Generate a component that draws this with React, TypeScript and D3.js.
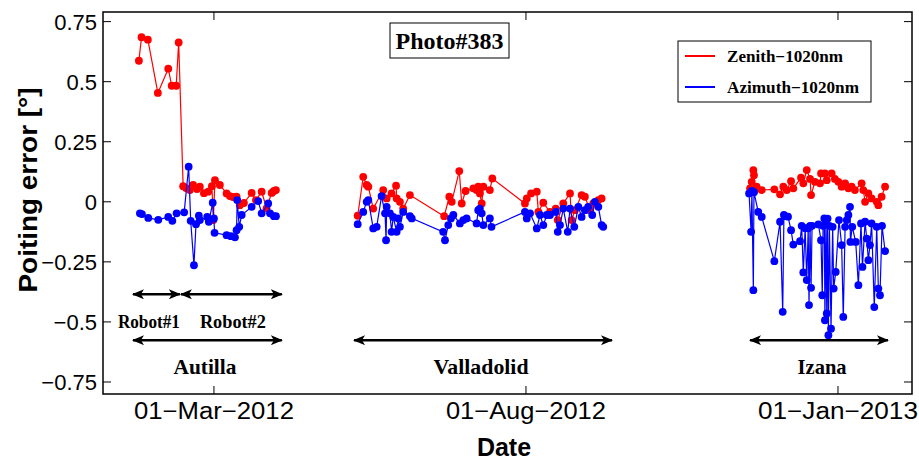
import React from 'react';
import * as d3 from 'd3';

// Day numbers counted from 2012-01-01 (day 0)
const autillaZenithDays = [23.2,24.5,27.6,32.5,37.6,39.3,41.5,42.7,44.9,46.3,48.2,49.8,51.7,53.1,55.1,57.2,59.0,59.7,60.5,62.9,66.2,67.8,69.3,71.1,72.7,74.7,78.5,80.6,83.4,85.8,88.3,89.4,90.4];
const autillaZenith = [0.587,0.685,0.675,0.453,0.554,0.483,0.483,0.663,0.065,0.057,0.049,0.07,0.053,0.063,0.036,0.042,0.065,-0.076,0.09,0.07,0.035,0.024,0.02,0.021,-0.014,-0.005,0.037,0.007,0.042,-0.027,0.037,0.045,0.049];
const autillaAzimuthDays = [23.7,24.7,27.8,32.7,37.6,39.6,41.7,45.4,47.6,48.6,50.2,51.2,52.6,53.1,56.7,57.5,59.4,60.0,60.3,66.2,68.3,70.3,71.1,71.4,72.4,73.6,78.5,81.7,83.4,86.6,87.5,89.4,90.4];
const autillaAzimuth = [-0.048,-0.051,-0.067,-0.075,-0.063,-0.079,-0.048,-0.044,0.146,-0.079,-0.264,-0.093,-0.058,-0.076,-0.063,-0.083,-0.004,-0.069,-0.129,-0.139,-0.143,-0.148,-0.118,0.007,-0.104,-0.055,-0.021,0.003,-0.048,-0.007,-0.048,-0.06,-0.06];

const valladolidZenithDays = [130.5,133.2,134.9,135.7,138.1,143.0,144.7,147.1,149.3,149.6,151.2,152.8,156.1,172.9,175.4,176.6,180.3,181.5,183.4,187.2,188.8,189.6,190.4,191.3,192.1,195.3,196.5,212.5,213.4,215.5,218.3,219.1,221.5,224.8,227.6,228.6,231.3,234.6,235.4,237.0,240.3,241.9,244.4,246.0,248.5,250.1];
const valladolidZenith = [-0.058,0.104,0.07,0.063,-0.028,0.049,0.014,0.035,0.067,0.014,0,-0.028,0.028,-0.06,0.021,0,0.128,-0.007,0.045,0.056,0.049,0.063,0.035,-0.007,0.063,0.049,0.097,-0.007,0.014,0.035,0.042,-0.042,-0.004,-0.042,-0.028,-0.076,-0.007,0.035,-0.076,-0.035,0.028,0.021,-0.035,-0.007,0.007,0.014];
const valladolidAzimuthDays = [130.5,133.2,134.9,135.7,138.1,139.8,142.2,143.9,144.4,144.7,146.3,147.1,147.9,149.6,150.4,151.2,152.8,156.1,157.0,172.4,173.3,174.9,176.2,177.4,180.6,182.3,183.9,188.8,189.6,190.4,191.3,192.1,195.3,196.1,212.5,213.4,215.0,218.3,219.9,221.5,223.2,224.8,227.6,228.6,229.7,231.3,233.5,234.6,236.7,238.7,240.3,241.9,243.5,245.5,246.8,248.5,250.1,250.9];
const valladolidAzimuth = [-0.093,-0.042,0,0.007,-0.111,-0.104,0.024,-0.048,-0.16,-0.021,-0.048,-0.125,-0.063,-0.125,-0.069,-0.104,-0.042,-0.06,-0.069,-0.125,-0.16,-0.097,-0.069,-0.055,-0.09,-0.076,-0.069,-0.09,-0.035,-0.028,-0.048,-0.097,-0.069,-0.104,-0.042,-0.069,-0.048,-0.111,-0.055,-0.097,-0.055,-0.055,-0.042,-0.125,-0.097,-0.028,-0.125,-0.028,-0.104,-0.021,-0.063,-0.035,-0.021,-0.055,0,-0.021,-0.097,-0.104];

const izanaZenithDays = [322.9,323.7,324.5,324.8,325.2,326.1,328.6,334.8,337.6,339.2,340.9,343.0,344.1,347.9,349.0,350.7,352.3,352.8,354.7,357.2,357.7,359.6,360.5,362.9,364.5,366.2,367.8,369.5,371.1,372.7,374.3,377.6,378.4,379.3,380.9,382.5,385.0,385.8,387.4,389.1];
const izanaZenith = [0.056,0.083,0.132,0.111,0.049,0.063,0.049,0.052,0.031,0.063,0.049,0.086,0.056,0.1,0.077,0.132,0.095,0.028,0.083,0.077,0.118,0.118,0.09,0.118,0.095,0.083,0.063,0.077,0.056,0.063,0.049,0.077,0.049,0,0.035,0.014,0,-0.014,0.021,0.063];
const izanaAzimuthDays = [322.4,323.4,323.8,324.5,324.8,326.9,328.6,334.8,337.6,338.9,339.5,340.0,341.5,343.0,344.1,347.4,348.2,349.0,349.9,350.7,351.4,351.8,352.3,352.8,353.3,356.4,357.7,358.3,358.7,359.3,359.6,360.1,360.5,360.9,361.3,361.8,362.6,363.4,363.9,364.9,366.5,367.8,368.6,369.5,370.3,371.1,371.9,372.1,373.0,374.7,376.0,377.3,378.0,379.3,380.1,380.9,381.7,382.5,383.8,385.0,385.8,386.6,387.6,389.1];
const izanaAzimuth = [0.035,-0.125,0.045,-0.368,0.04,-0.042,-0.063,-0.247,-0.083,-0.458,-0.055,-0.06,-0.062,-0.118,-0.178,-0.164,-0.1,-0.294,-0.11,-0.326,-0.11,-0.43,-0.1,-0.358,-0.1,-0.094,-0.16,-0.389,-0.1,-0.069,-0.493,-0.08,-0.465,-0.07,-0.555,-0.1,-0.528,-0.104,-0.361,-0.292,-0.076,-0.18,-0.479,-0.104,-0.076,-0.055,-0.021,-0.167,-0.104,-0.167,-0.347,-0.09,-0.271,-0.083,-0.153,-0.243,-0.18,-0.09,-0.438,-0.104,-0.361,-0.389,-0.1,-0.205];

const yTicks = [-0.75, -0.5, -0.25, 0, 0.25, 0.5, 0.75];
const xTickDays = [60, 213, 366];
const xTickLabels = ['01\u2212Mar\u22122012', '01\u2212Aug\u22122012', '01\u2212Jan\u22122013'];

const robotLabels = ['Robot#1', 'Robot#2'];
const robotFrom = [20.3, 43.8];
const robotTo = [43.3, 93.3];
const robotLabelDay = [28.1, 69.3];
const robotLabelWidth = [62, 66];

const siteLabels = ['Autilla', 'Valladolid', 'Izana'];
const siteFrom = [20.3, 128.7, 322.9];
const siteTo = [93.3, 255.2, 390.5];
const siteLabelDay = [55.6, 191, 358.2];
const siteLabelWidth = [63, 95, 49];

const RED = '#ff0000';
const BLUE = '#0000ff';

const BASE = Date.UTC(2012, 0, 1);
const toDate = (d: number) => new Date(BASE + d * 86400000);

const W = 919, H = 461;
const L = 103, R = 912, T = 12, B = 394;

export default function App() {
  const x = d3.scaleUtc().domain([toDate(5.6), toDate(402.3)]).range([L, R]);
  const y = d3.scaleLinear().domain([-0.8, 0.79]).range([B, T]);
  const line = d3.line<[number, number]>().x(d => x(toDate(d[0]))).y(d => y(d[1]));

  const series = [
    { days: autillaZenithDays, vals: autillaZenith, color: RED },
    { days: valladolidZenithDays, vals: valladolidZenith, color: RED },
    { days: izanaZenithDays, vals: izanaZenith, color: RED },
    { days: autillaAzimuthDays, vals: autillaAzimuth, color: BLUE },
    { days: valladolidAzimuthDays, vals: valladolidAzimuth, color: BLUE },
    { days: izanaAzimuthDays, vals: izanaAzimuth, color: BLUE },
  ];

  const fmt = (v: number) => String(v).replace('-', '\u2212');
  const sans = 'Liberation Sans, Arial, sans-serif';
  const serif = 'Liberation Serif, Times New Roman, serif';

  const robotY = y(-0.385);
  const robotLabelY = y(-0.501);
  const siteY = y(-0.576);
  const siteLabelY = y(-0.685);

  return (
    <svg width={W} height={H} style={{ position: 'absolute', left: 0, top: 0, background: '#fff' }}>
      <defs>
        <marker id="ah" viewBox="0 0 12 10" refX="11" refY="5" markerWidth="12" markerHeight="10"
          markerUnits="userSpaceOnUse" orient="auto-start-reverse">
          <path d="M0,0 L12,5 L0,10 L3,5 Z" fill="#000" />
        </marker>
      </defs>
      <rect x={0} y={0} width={W} height={H} fill="#fff" />

      {/* data */}
      {series.map((s, i) => {
        const pts = s.days.map((d, j) => [d, s.vals[j]] as [number, number]);
        return (
          <g key={i}>
            <path d={line(pts) || ''} fill="none" stroke={s.color} strokeWidth={1.2} />
            {pts.map((p, j) => (
              <circle key={j} cx={x(toDate(p[0]))} cy={y(p[1])} r={3.9} fill={s.color} />
            ))}
          </g>
        );
      })}

      {/* frame */}
      <rect x={L} y={T} width={R - L} height={B - T} fill="none" stroke="#000" strokeWidth={1.5} />
      {yTicks.map(v => (
        <g key={v}>
          <line x1={L} x2={L + 8} y1={y(v)} y2={y(v)} stroke="#000" strokeWidth={1} />
          <line x1={R} x2={R - 8} y1={y(v)} y2={y(v)} stroke="#000" strokeWidth={1} />
          <text x={97} y={y(v)} dy="0.36em" textAnchor="end" fontFamily={sans} fontSize={22}>{fmt(v)}</text>
        </g>
      ))}
      {xTickDays.map((d, i) => (
        <g key={d}>
          <line x1={x(toDate(d))} x2={x(toDate(d))} y1={B} y2={B - 8} stroke="#000" strokeWidth={1} />
          <line x1={x(toDate(d))} x2={x(toDate(d))} y1={T} y2={T + 8} stroke="#000" strokeWidth={1} />
          <text x={x(toDate(d))} y={411} dy="0.36em" textAnchor="middle" fontFamily={sans} fontSize={23}
            textLength={160} lengthAdjust="spacingAndGlyphs">{xTickLabels[i]}</text>
        </g>
      ))}

      <text x={504} y={447} dy="0.36em" textAnchor="middle" fontFamily={sans} fontSize={25} fontWeight="bold">Date</text>
      <text transform={`translate(28,190) rotate(-90)`} dy="0.35em" textAnchor="middle" fontFamily={sans}
        fontSize={25} fontWeight="bold" textLength={205} lengthAdjust="spacingAndGlyphs">Poiting error [°]</text>

      {/* title box */}
      <rect x={390} y={23} width={119} height={35} fill="#fff" stroke="#000" strokeWidth={1} />
      <text x={449.5} y={40.5} dy="0.35em" textAnchor="middle" fontFamily={serif} fontSize={23} fontWeight="bold"
        textLength={108} lengthAdjust="spacingAndGlyphs">Photo#383</text>

      {/* legend */}
      <rect x={678} y={41} width={193} height={61} fill="#fff" stroke="#000" strokeWidth={1} />
      <line x1={685} x2={715} y1={56} y2={56} stroke={RED} strokeWidth={2} />
      <line x1={685} x2={715} y1={87} y2={87} stroke={BLUE} strokeWidth={2} />
      <text x={727} y={56} dy="0.35em" fontFamily={serif} fontSize={16} fontWeight="bold"
        textLength={116} lengthAdjust="spacingAndGlyphs">Zenith{'\u2212'}1020nm</text>
      <text x={727} y={87} dy="0.35em" fontFamily={serif} fontSize={16} fontWeight="bold"
        textLength={132} lengthAdjust="spacingAndGlyphs">Azimuth{'\u2212'}1020nm</text>

      {/* annotations */}
      {robotLabels.map((lab, i) => (
        <g key={lab}>
          <line x1={x(toDate(robotFrom[i]))} x2={x(toDate(robotTo[i]))} y1={robotY} y2={robotY}
            stroke="#000" strokeWidth={2.5} markerStart="url(#ah)" markerEnd="url(#ah)" />
          <text x={x(toDate(robotLabelDay[i]))} y={robotLabelY} dy="0.35em" textAnchor="middle" fontFamily={serif}
            fontSize={18} fontWeight="bold" textLength={robotLabelWidth[i]} lengthAdjust="spacingAndGlyphs">{lab}</text>
        </g>
      ))}
      {siteLabels.map((lab, i) => (
        <g key={lab}>
          <line x1={x(toDate(siteFrom[i]))} x2={x(toDate(siteTo[i]))} y1={siteY} y2={siteY}
            stroke="#000" strokeWidth={2.5} markerStart="url(#ah)" markerEnd="url(#ah)" />
          <text x={x(toDate(siteLabelDay[i]))} y={siteLabelY} dy="0.35em" textAnchor="middle" fontFamily={serif}
            fontSize={22} fontWeight="bold" textLength={siteLabelWidth[i]} lengthAdjust="spacingAndGlyphs">{lab}</text>
        </g>
      ))}
    </svg>
  );
}
